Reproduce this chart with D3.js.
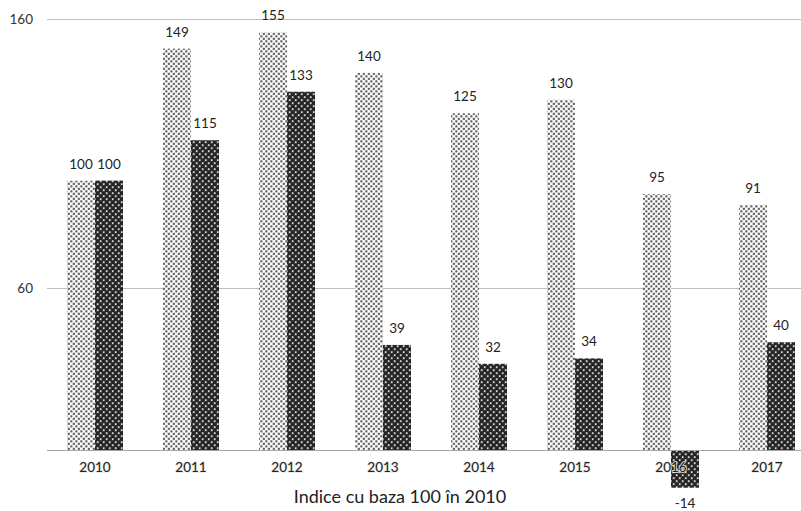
<!DOCTYPE html>
<html>
<head>
<meta charset="utf-8">
<script src="https://cdn.jsdelivr.net/npm/d3@7"></script>
<style>
  html, body { margin: 0; padding: 0; background: #fff; }
  svg { display: block; font-family: Lato, "Open Sans", "Liberation Sans", sans-serif; }
</style>
</head>
<body>
<svg id="chart" width="801" height="511"></svg>
<script>
// Index values, base 100 in 2010
const years = ["2010", "2011", "2012", "2013", "2014", "2015", "2016", "2017"];
const seriesA = [100, 149, 155, 140, 125, 130, 95, 91];
const seriesB = [100, 115, 133, 39, 32, 34, -14, 40];
const yTicks = [60, 160];
const title = "Indice cu baza 100 în 2010";

const svg = d3.select("#chart");
const defs = svg.append("defs");

// Light dotted fill: staggered small grey squares on white
const pA = defs.append("pattern")
  .attr("id", "patA").attr("patternUnits", "userSpaceOnUse")
  .attr("width", 5).attr("height", 5);
pA.append("rect").attr("width", 5).attr("height", 5).attr("fill", "#fafafa");
pA.append("rect").attr("x", 0.3).attr("y", 0.3).attr("width", 2.1).attr("height", 2.1).attr("fill", "#606060");
pA.append("rect").attr("x", 2.8).attr("y", 2.8).attr("width", 2.1).attr("height", 2.1).attr("fill", "#606060");

// Dark fill: grid of shaded spheres
const pB = defs.append("pattern")
  .attr("id", "patB").attr("patternUnits", "userSpaceOnUse")
  .attr("width", 6).attr("height", 6);
pB.append("rect").attr("width", 6).attr("height", 6).attr("fill", "#ececec");
[[1.5, 1.5], [4.5, 4.5]].forEach(([cx, cy]) => {
  pB.append("circle").attr("cx", cx).attr("cy", cy).attr("r", 2.1).attr("fill", "#222");
});
[[4.5, 1.5], [1.5, 4.5]].forEach(([cx, cy]) => {
  pB.append("circle").attr("cx", cx).attr("cy", cy).attr("r", 1.9).attr("fill", "#383838");
  pB.append("circle").attr("cx", cx + 0.3).attr("cy", cy - 0.4).attr("r", 0.9).attr("fill", "#f2f2f2");
});

const x = d3.scaleBand().domain(years).range([47, 815]).padding(0);
const xs = d3.scaleBand().domain(["a", "b"]).range([0, x.bandwidth()])
  .paddingInner(0).paddingOuter(0.714);
const y = d3.scaleLinear().domain([0, 160]).range([450, 19]);

// Gridlines
svg.append("g").selectAll("line").data(yTicks).join("line")
  .attr("x1", 47).attr("x2", 801)
  .attr("y1", d => Math.round(y(d)) + 0.5).attr("y2", d => Math.round(y(d)) + 0.5)
  .attr("stroke", "#bfbfbf").attr("stroke-width", 1.2);

// Y tick labels
svg.append("g").selectAll("text").data(yTicks).join("text")
  .attr("x", 33).attr("y", d => y(d) + 5)
  .attr("text-anchor", "end").attr("font-size", 13.5).attr("fill", "#333")
  .text(d => d);

const data = years.map((yr, i) => ({ yr, a: seriesA[i], b: seriesB[i] }));

const bars = [];
data.forEach(d => {
  bars.push({ yr: d.yr, key: "a", v: d.a });
  bars.push({ yr: d.yr, key: "b", v: d.b });
});

svg.append("g").selectAll("rect").data(bars).join("rect")
  .attr("x", d => x(d.yr) + xs(d.key))
  .attr("width", xs.bandwidth())
  .attr("y", d => y(Math.max(0, d.v)))
  .attr("height", d => Math.abs(y(d.v) - y(0)))
  .attr("fill", d => d.key === "a" ? "url(#patA)" : "url(#patB)");

// Baseline
svg.append("line")
  .attr("x1", 47).attr("x2", 801)
  .attr("y1", y(0) + 0.5).attr("y2", y(0) + 0.5)
  .attr("stroke", "#a6a6a6").attr("stroke-width", 1.2);

// X axis labels, drawn over the bars with a thin light halo
svg.append("g").selectAll("text").data(years).join("text")
  .attr("x", d => x(d) + x.bandwidth() / 2)
  .attr("y", 472)
  .attr("text-anchor", "middle").attr("font-size", 13.5).attr("fill", "#222")
  .attr("stroke", "#e8e8e8").attr("stroke-width", 1.6)
  .attr("paint-order", "stroke")
  .text(d => d);

// Value labels
svg.append("g").selectAll("text").data(bars).join("text")
  .attr("x", d => x(d.yr) + xs(d.key) + xs.bandwidth() / 2)
  .attr("y", d => d.v >= 0 ? y(d.v) - 12 : y(d.v) + 20)
  .attr("text-anchor", "middle").attr("font-size", 13.5).attr("fill", "#222")
  .text(d => d.v);

// Title below the chart
svg.append("text")
  .attr("x", 400).attr("y", 503)
  .attr("text-anchor", "middle").attr("font-size", 18).attr("fill", "#222")
  .text(title);
</script>
</body>
</html>
